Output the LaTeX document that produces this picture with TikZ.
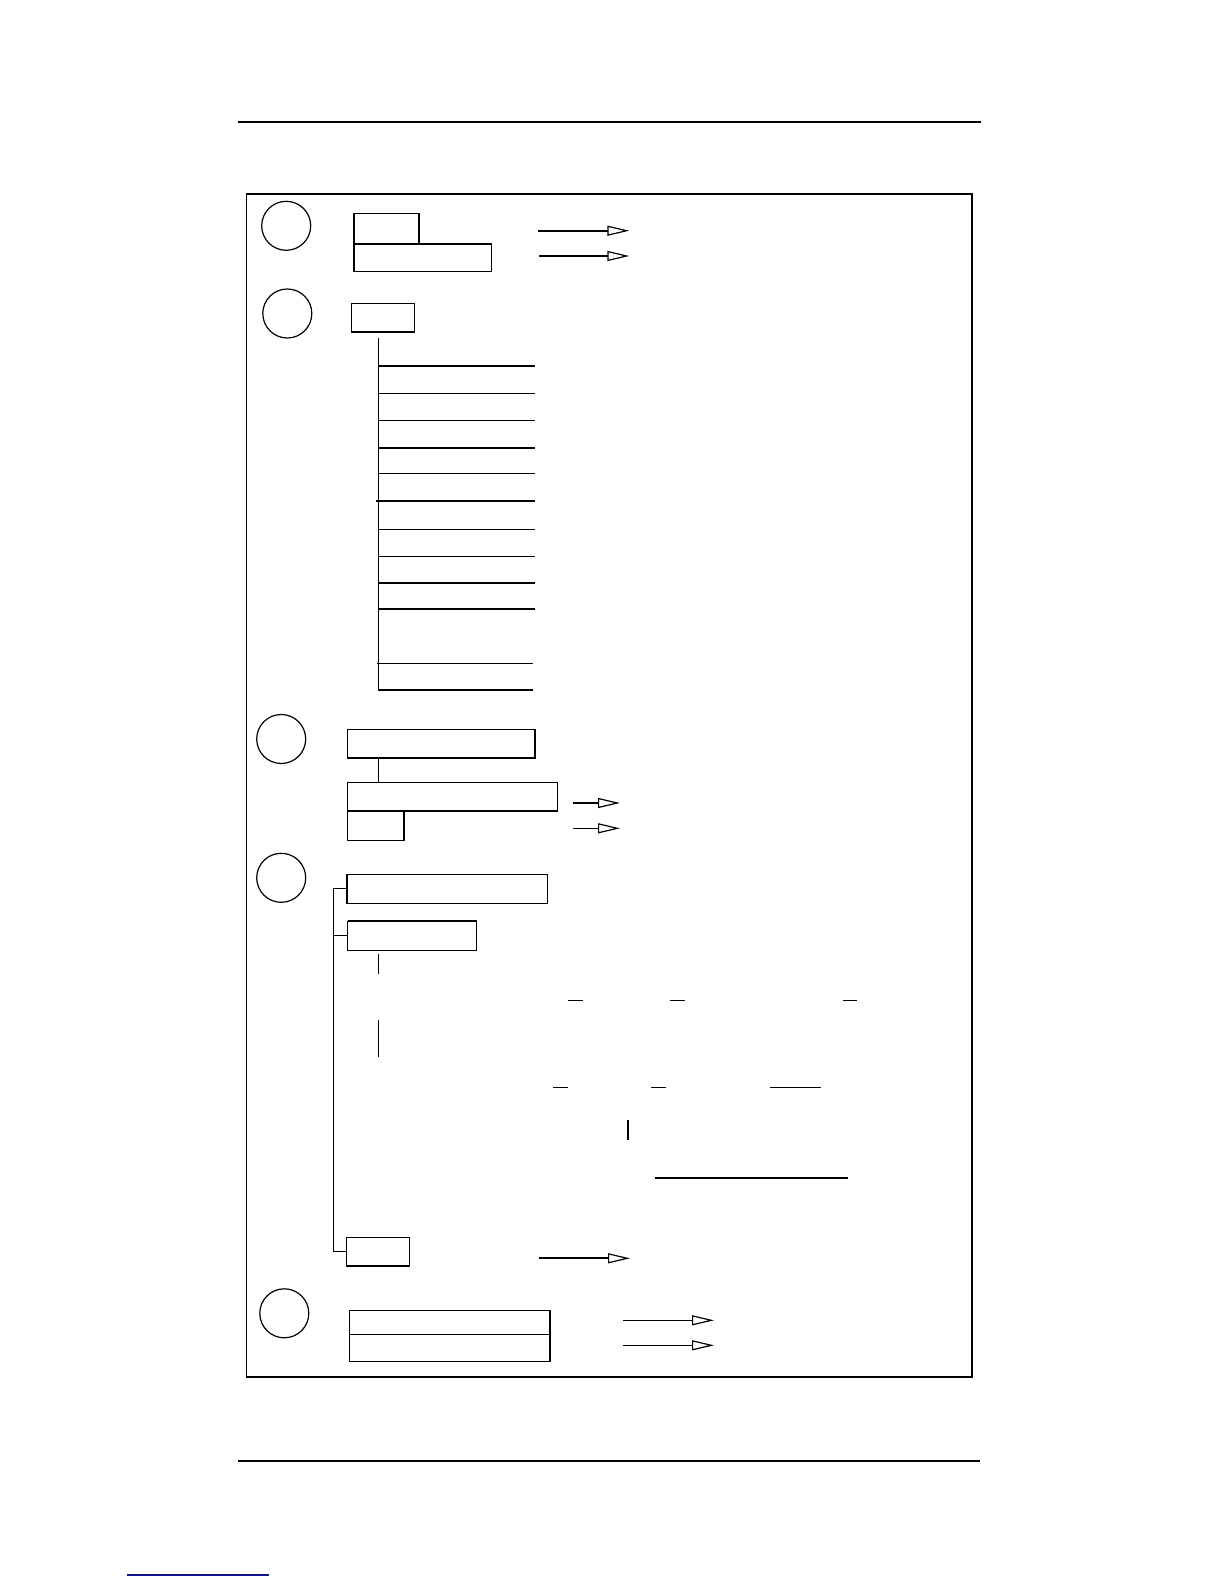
\documentclass[tikz,border=0pt]{standalone}
\usetikzlibrary{arrows.meta}
\definecolor{rulblue}{RGB}{20,20,140}
\begin{document}
\begin{tikzpicture}[x=1pt,y=-1pt,
  thinl/.style={line width=1.2pt},
  heavy/.style={line width=2.3pt},
  box/.style={draw, line width=1.2pt, inner sep=0pt, outer sep=0pt, anchor=north west},
  marker/.style={draw, circle, line width=1.2pt, inner sep=0pt, minimum size=49pt},
  arr/.style={-{Triangle[open, length=22pt, width=10pt, line width=1.2pt]}},
]
\useasboundingbox (0,0) rectangle (1224,1584);

% page rules
\coordinate (tr1) at (238,122); \coordinate (tr2) at (981,122);
\draw[line width=1.4pt] (tr1) -- (tr2);
\coordinate (br1) at (238,1460.6); \coordinate (br2) at (980,1460.6);
\draw[line width=2pt] (br1) -- (br2);
\coordinate (bl1) at (126.7,1575); \coordinate (bl2) at (269,1575);
\draw[line width=1.4pt, rulblue] (bl1) -- (bl2);

% outer frame
\node[box, minimum width=725.5pt, minimum height=1183pt] (frame) at (246.5,194) {};
\draw[line width=2.6pt] (frame.south west) -- (frame.south east);

% circles
\node[marker] (c1) at (286.2,225.8) {};
\node[marker] (c2) at (287.3,313.5) {};
\node[marker] (c3) at (281.2,739) {};
\node[marker] (c4) at (281.2,877.8) {};
\node[marker] (c5) at (284.3,1313.3) {};

% ---- section 1
\node[box, minimum width=65.3pt, minimum height=30.7pt] (A) at (354,213.3) {};
\node[box, minimum width=137.7pt, minimum height=27.3pt] (B) at (354,244) {};
\draw[heavy] (A.north west) -- (B.south west);
\draw[heavy] (A.north east) -- (A.south east);
\coordinate (a1s) at (537.7,230.7); \coordinate (a1e) at (629.3,230.7);
\draw[heavy, arr] (a1s) -- (a1e);
\coordinate (a2s) at (539,256); \coordinate (a2e) at (629.3,256);
\draw[thinl, arr] (a2s) -- (a2e);

% ---- section 2
\node[box, minimum width=63pt, minimum height=28.7pt] (S) at (351.3,303.3) {};
\draw[heavy] (S.south west) -- (S.south east);
\coordinate (t0) at (378.3,338.3); \coordinate (t1) at (378.3,691);
\draw[thinl] (t0) -- (t1);
\foreach \yy in {366,393.3,420.3,473.3,529.3,556.3,583,609}
  \draw[thinl] (378.3,\yy) -- (535,\yy);
\draw[heavy] (378.3,447.7) -- (535,447.7);
\draw[heavy] (376.3,500.7) -- (535,500.7);
\draw[thinl] (377.3,663.3) -- (533,663.3);
\draw[heavy] (378.3,690.3) -- (533,690.3);

% ---- section 3
\node[box, minimum width=187.7pt, minimum height=28.4pt] (C) at (347.3,729.3) {};
\draw[heavy] (C.north east) -- (C.south east) -- (C.south west);
\node[box, minimum width=210pt, minimum height=28.7pt] (D) at (347.3,782.3) {};
\node[box, minimum width=56.7pt, minimum height=29.3pt] (E) at (347.3,811) {};
\draw[heavy] (E.north east) -- (E.south east);
\coordinate (cx) at (378.3,0);
\draw[thinl] (C.south -| cx) -- (D.north -| cx);
\coordinate (a3s) at (573,803); \coordinate (a3e) at (620,803);
\draw[thinl, arr] (a3s) -- (a3e);
\coordinate (a4s) at (573,828.3); \coordinate (a4e) at (620,828.3);
\draw[thinl, arr] (a4s) -- (a4e);

% ---- section 4
\node[box, minimum width=200.7pt, minimum height=29pt] (F) at (346.8,874.3) {};
\draw[heavy] (F.north west) -- (F.south west);
\node[box, minimum width=129.3pt, minimum height=29pt] (G) at (347.5,921.3) {};
\draw[heavy] (G.north west) -- (G.north east);
\node[box, minimum width=62.5pt, minimum height=28.3pt] (H) at (346.8,1237.7) {};
\coordinate (bk) at (333.2,0);
\draw[thinl] (F.west) -- (F.west -| bk) -- (H.west -| bk) -- (H.west);
\draw[thinl] (G.west) -- (G.west -| bk);
\draw[thinl] (378.2,954.3) -- (378.2,974.3);
\draw[thinl] (378.2,1020) -- (378.2,1056.7);
\foreach \xa/\xb in {568.3/582.7, 670/684.7, 842.7/856.7}
  \draw[line width=1.5pt] (\xa,1000.3) -- (\xb,1000.3);
\foreach \xa/\xb in {553.3/567.7, 651/665.7, 770/820.7}
  \draw[line width=1.5pt] (\xa,1087.3) -- (\xb,1087.3);
\draw[heavy] (627.7,1120) -- (627.7,1140);
\draw[heavy] (655,1178) -- (848,1178);
\coordinate (a5s) at (539.3,1258.3); \coordinate (a5e) at (630,1258.3);
\draw[heavy, arr] (a5s) -- (a5e);

% ---- section 5
\node[box, minimum width=201pt, minimum height=24pt] (I) at (349.3,1310.3) {};
\node[box, minimum width=201pt, minimum height=27pt] (J) at (349.3,1334.3) {};
\draw[heavy] (I.north east) -- (J.south east);
\coordinate (a6s) at (623.3,1320.3); \coordinate (a6e) at (714,1320.3);
\draw[thinl, arr] (a6s) -- (a6e);
\coordinate (a7s) at (623.3,1345.3); \coordinate (a7e) at (714,1345.3);
\draw[thinl, arr] (a7s) -- (a7e);
\end{tikzpicture}
\end{document}
